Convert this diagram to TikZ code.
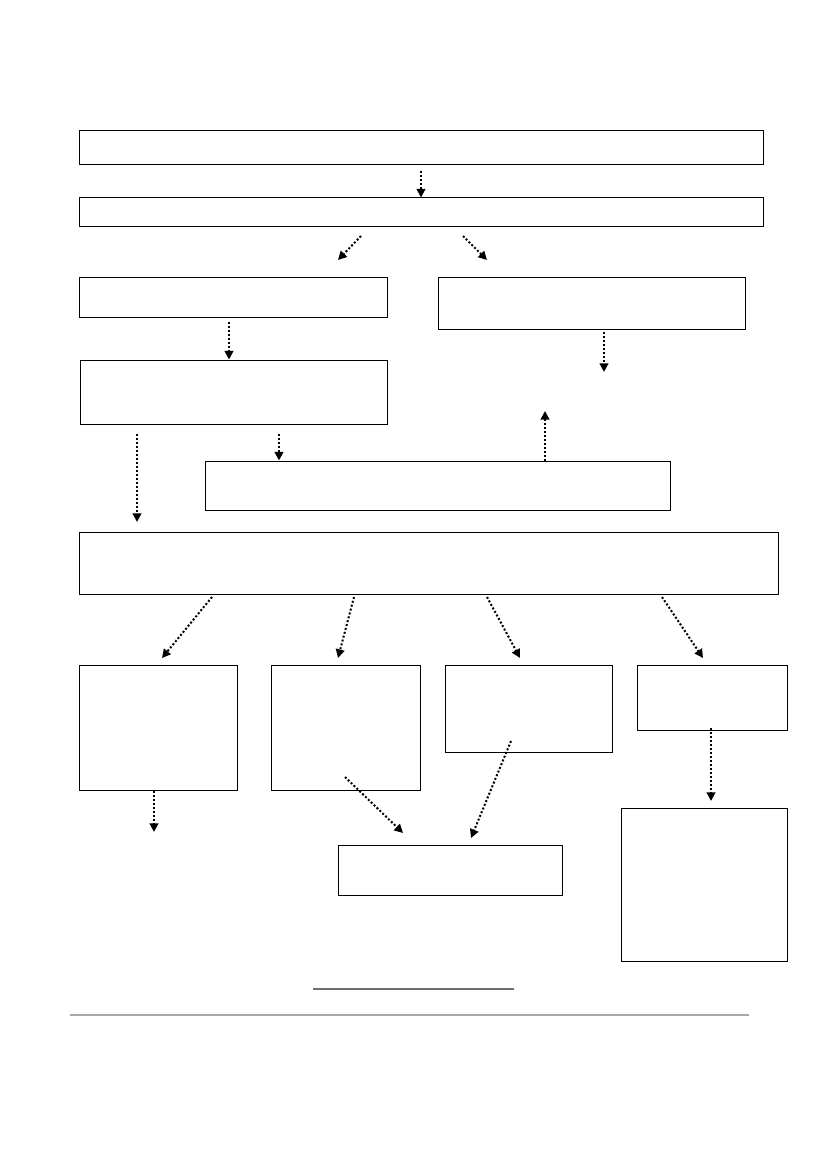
\documentclass[tikz,border=0pt]{standalone}
\usepackage{xcolor}
\usepackage{tikz}
\usetikzlibrary{arrows.meta}
\definecolor{rulegray}{HTML}{A8A8A8}
\definecolor{notegray}{HTML}{6E6E6E}

\begin{document}
\begin{tikzpicture}[x=0.75pt, y=-0.75pt,
        sec/.style 2 args={rectangle, draw=black, line width=0.75pt, inner sep=0pt,
          minimum width=#1*0.75pt, minimum height=#2*0.75pt},
        arr/.style={-{Triangle[length=6.5pt, width=6.5pt]}, line width=1.5pt,
          dash pattern=on 1.5pt off 1.5pt}]
      \useasboundingbox (0,0) rectangle (827,1169);
      \node[sec={684}{34}] (s1) at (421,148) {};
      \node[sec={684}{29}] (s2) at (421,212.5) {};
      \node[sec={308}{39}] (s3) at (233,297.5) {};
      \node[sec={307}{51}] (s4) at (591.5,303.5) {};
      \node[sec={307}{64}] (s5) at (233.5,392) {};
      \node[sec={465}{49}] (s6) at (437.5,485.5) {};
      \node[sec={699}{62}] (s7) at (428.5,563) {};
      \node[sec={158}{125}] (s8) at (158,727.5) {};
      \node[sec={149}{125}] (s9) at (345.5,727.5) {};
      \node[sec={167}{87}] (s10) at (528.5,708.5) {};
      \node[sec={150}{65}] (s11) at (712,697.5) {};
      \node[sec={224}{50}] (s12) at (450,870) {};
      \node[sec={166}{153}] (s13) at (704,884.5) {};
      \coordinate (a1) at (361,236); \coordinate (b1) at (338,260);
      \coordinate (a2) at (463,236); \coordinate (b2) at (487,260);
      \coordinate (a3) at (229,322);
      \coordinate (a4) at (604,332); \coordinate (b4) at (604,372);
      \coordinate (b5) at (545,411);
      \coordinate (a6) at (279,434);
      \coordinate (a7) at (137,434); \coordinate (b7) at (137,522);
      \coordinate (a8) at (212,597); \coordinate (b8) at (162,658);
      \coordinate (a9) at (354,597); \coordinate (b9) at (338,658);
      \coordinate (a10) at (487,597); \coordinate (b10) at (520,658);
      \coordinate (a11) at (662,597); \coordinate (b11) at (703,658);
      \coordinate (b12) at (154,832);
      \coordinate (a13) at (345,777); \coordinate (b13) at (403,833);
      \coordinate (a14) at (511,741); \coordinate (b14) at (471,838);
      \coordinate (a15) at (711,728); \coordinate (b15) at (711,801);
      \draw[arr, shorten <=4.5pt] (s1.south) -- (s2.north);
      \draw[arr] (a1) -- (b1);
      \draw[arr] (a2) -- (b2);
      \draw[arr] (a3) -- (a3 |- s5.north);
      \draw[arr] (a4) -- (b4);
      \draw[arr] (b5 |- s6.north) -- (b5);
      \draw[arr] (a6) -- (a6 |- s6.north);
      \draw[arr] (a7) -- (b7);
      \draw[arr] (a8) -- (b8);
      \draw[arr] (a9) -- (b9);
      \draw[arr] (a10) -- (b10);
      \draw[arr] (a11) -- (b11);
      \draw[arr] (b12 |- s8.south) -- (b12);
      \draw[arr] (a13) -- (b13);
      \draw[arr] (a14) -- (b14);
      \draw[arr] (a15) -- (b15);
      \draw[notegray, line width=1.1pt] (313,989) -- (514,989);
      \draw[rulegray, line width=1.6pt] (70,1015) -- (749,1015);
    \end{tikzpicture}
\end{document}
